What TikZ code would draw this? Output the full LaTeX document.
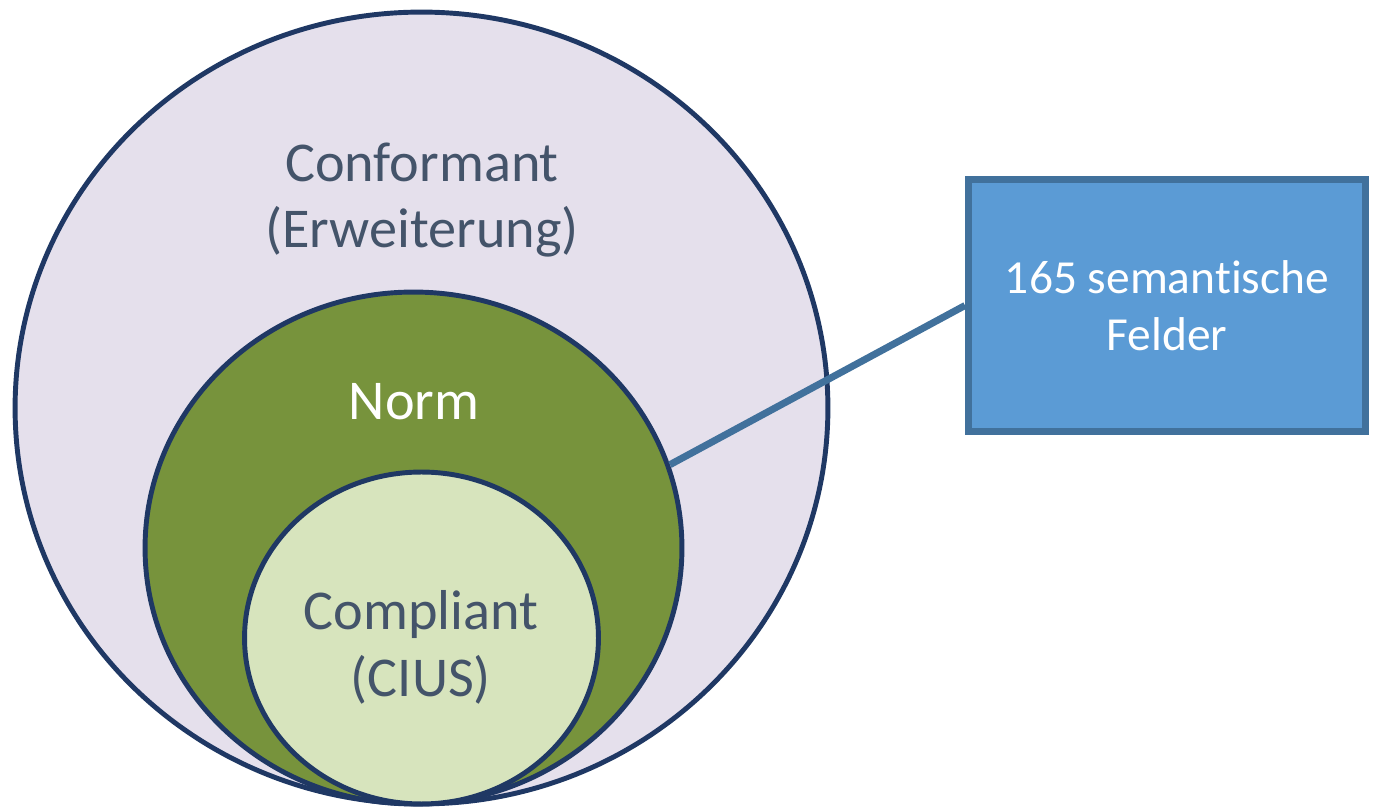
\documentclass[tikz,border=0pt]{standalone}
\usepackage{fontspec}
\setmainfont{Carlito}[Ligatures={CommonOff,ContextualOff}]
\usetikzlibrary{shapes.geometric}

\definecolor{ringline}{HTML}{1F3864}
\definecolor{outerfill}{HTML}{E5E0EC}
\definecolor{normfill}{HTML}{77933C}
\definecolor{innerfill}{HTML}{D7E4BD}
\definecolor{labelgray}{HTML}{44546A}
\definecolor{boxfill}{HTML}{5B9BD5}
\definecolor{boxline}{HTML}{41719C}

\tikzset{
  ring/.style={ellipse, draw=ringline, line width=2.8pt, inner sep=0pt},
  ringtext/.style={text=labelgray, align=center, font=\fontsize{32}{38}\selectfont},
}

\begin{document}
\begin{tikzpicture}[x=0.02cm, y=-0.02cm]
    \useasboundingbox (0,0) rectangle (1374,810);

    % Rings
    \node[ring, fill=outerfill, minimum width=16.26cm, minimum height=15.84cm] (conformant) at (421.5,408) {};
    \node[ring, fill=normfill, minimum width=10.74cm, minimum height=10.24cm] (norm) at (413.5,548) {};
    \node[ring, fill=innerfill, minimum width=7.08cm, minimum height=6.64cm] (compliant) at (421.5,638) {};

    % Ring labels
    \node[ringtext] (conformantlabel) at (422,200) {Conformant\\(Erweiterung)};
    \node[ringtext, text=white] (normlabel) at (414,402) {Norm};
    \node[ringtext] (compliantlabel) at (421,647) {Compliant\\(CIUS)};

    % Field count box
    \node[draw=boxline, fill=boxfill, line width=4pt, minimum width=7.94cm, minimum height=5.04cm,
          text=white, align=center, font=\fontsize{27}{32.5}\selectfont] (felder) at (1167,305.5)
          {165 semantische\\Felder};
    \draw[boxline, line width=4pt] (felder.west) -- (norm.18);
\end{tikzpicture}
\end{document}
